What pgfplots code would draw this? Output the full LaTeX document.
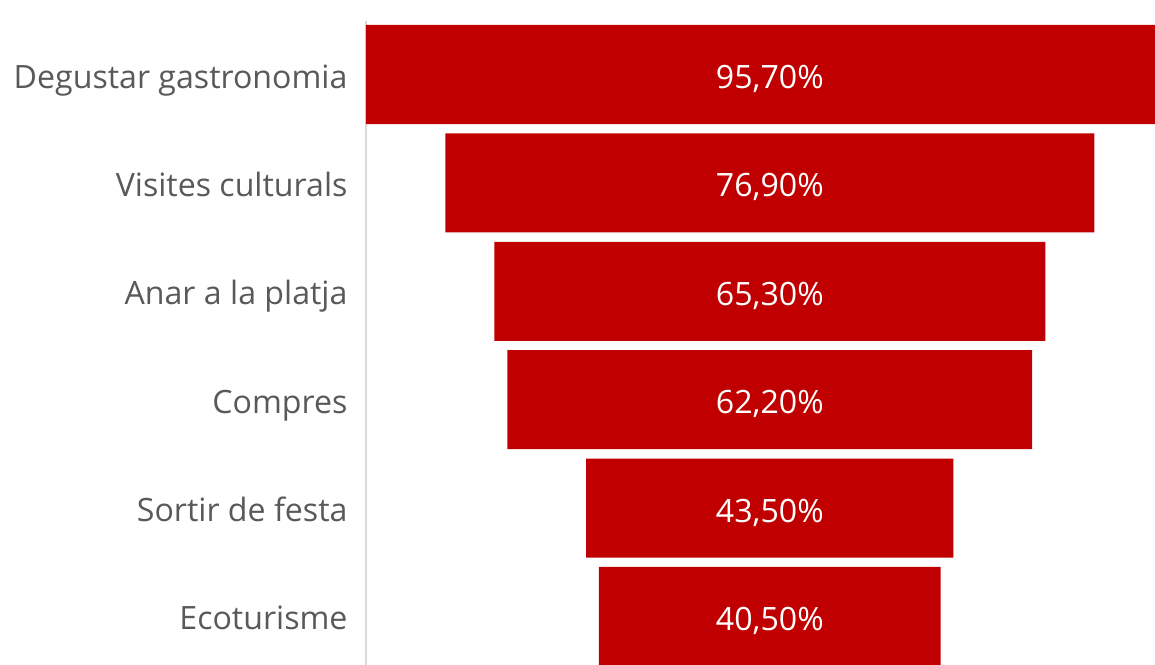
\documentclass[border=0pt]{standalone}
\usepackage{fontspec}
\setmainfont{Open Sans}
\usepackage{pgfplots}
\pgfplotsset{compat=1.18}
\definecolor{barred}{HTML}{C00000}
\definecolor{labgray}{HTML}{595959}
\definecolor{axgray}{HTML}{D9D9D9}

\pgfplotsset{funnel/.style={
    scale only axis,
    width=315.6pt, height=257.4pt,
    xmin=0, xmax=93.5,
    ymin=-0.49, ymax=5.447,
    y dir=reverse,
}}

\begin{document}
\begin{tikzpicture}
\begin{axis}[
    funnel,
    xbar stacked,
    bar width=39.6pt,
    axis x line=none,
    axis y line*=left,
    y axis line style={axgray, line width=0.6pt, -},
    ytick={0,...,5},
    yticklabels={Degustar gastronomia, Visites culturals, Anar a la platja, Compres, Sortir de festa, Ecoturisme},
    major tick length=0pt,
    yticklabel style={font=\fontsize{12.85}{14}\selectfont, text=labgray, inner sep=0pt,
        anchor=base east, xshift=-7.2pt, yshift=-5.4pt},
    clip=true,
]
% invisible offset that centres each bar
\addplot[draw=none, fill=none] coordinates {(0,0) (9.4,1) (15.2,2) (16.75,3) (26.1,4) (27.6,5)};
% visible funnel bars
\addplot[draw=none, fill=barred] coordinates {(95.7,0) (76.9,1) (65.3,2) (62.2,3) (43.5,4) (40.5,5)};
\end{axis}
% value labels at the bar centres
\begin{axis}[funnel, hide axis, clip=false]
\addplot[only marks, mark=none, point meta=explicit,
    nodes near coords={\pgfmathprintnumber[fixed, fixed zerofill, precision=2, use comma, assume math mode=true]{\pgfplotspointmeta}\%},
    every node near coord/.style={anchor=base, yshift=-5.6pt, text=white, inner sep=0pt,
        font=\fontsize{12.85}{14}\selectfont},
] table[meta=v] {
x y v
47.85 0 95.7
47.85 1 76.9
47.85 2 65.3
47.85 3 62.2
47.85 4 43.5
47.85 5 40.5
};
\end{axis}
\pgfresetboundingbox
\path ([xshift=-146.4pt]current axis.south west) rectangle ([yshift=8.56pt]current axis.north east);
\end{tikzpicture}
\end{document}
